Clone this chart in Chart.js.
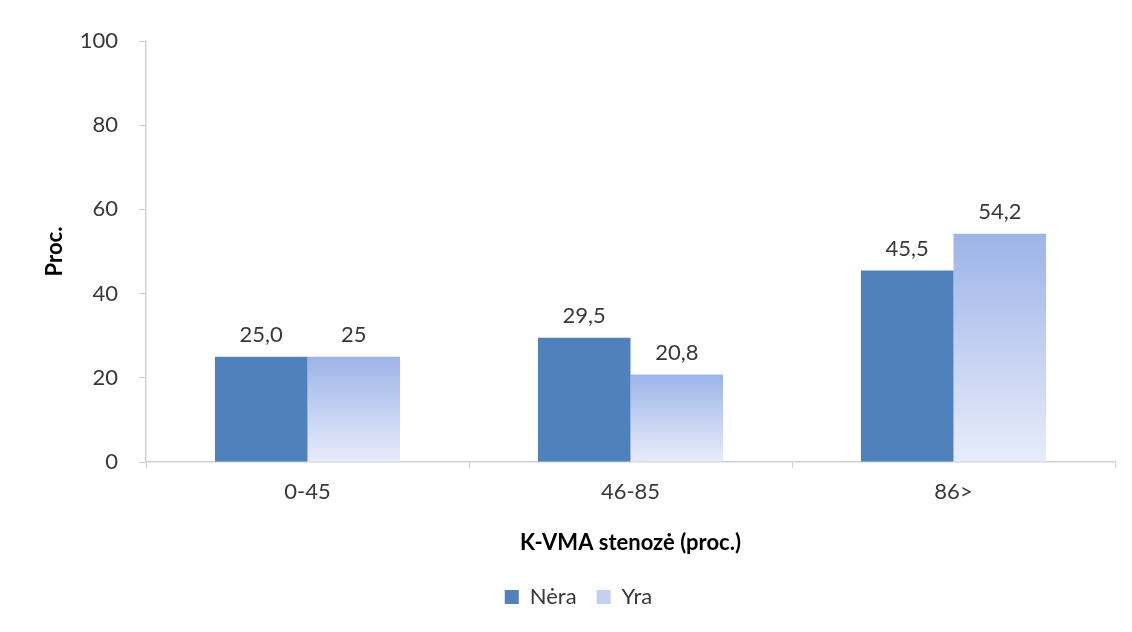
<!DOCTYPE html>
<html>
<head>
<meta charset="utf-8">
<script src="https://cdn.jsdelivr.net/npm/chart.js@4/dist/chart.umd.min.js"></script>
<style>
  html, body { margin: 0; padding: 0; background: #ffffff; }
  #wrap { width: 1132px; height: 632px; }
</style>
</head>
<body>
<div id="wrap"><canvas id="c" width="1132" height="632"></canvas></div>
<script>
// Stenosis groups and the share of patients in each group
const categories = ['0-45', '46-85', '86>'];
const seriesNames = ['Nėra', 'Yra'];
const neraValues = [25.0, 29.5, 45.5];
const yraValues = [25, 20.8, 54.2];
const neraLabels = ['25,0', '29,5', '45,5'];
const yraLabels = ['25', '20,8', '54,2'];
const yTicks = [0, 20, 40, 60, 80, 100];

const FONT = 'Lato, "Open Sans", sans-serif';
const SIZE = 22;
const TEXT = '#383838';
const AXIS = '#d0d0d0';
const NERA_COLOR = '#4f81bd';
const YRA_SWATCH = '#c2d0f1';

// Vertical fade used for the "Yra" bars, spanning each bar from its top to the baseline
function yraFill(ctx) {
  const chart = ctx.chart;
  const y = chart.scales && chart.scales.y;
  if (ctx.type !== 'data' || !y || !chart.chartArea) return YRA_SWATCH;
  const top = y.getPixelForValue(ctx.raw);
  const base = y.getPixelForValue(0);
  const g = chart.ctx.createLinearGradient(0, top, 0, base);
  g.addColorStop(0, '#9db4e8');
  g.addColorStop(1, '#e8ecfa');
  return g;
}

// Writes the value above every bar
const valueLabels = {
  id: 'valueLabels',
  afterDatasetsDraw(chart) {
    const c = chart.ctx;
    c.save();
    c.font = SIZE + 'px ' + FONT;
    c.fillStyle = TEXT;
    c.textAlign = 'center';
    c.textBaseline = 'middle';
    chart.data.datasets.forEach((ds, i) => {
      const meta = chart.getDatasetMeta(i);
      meta.data.forEach((bar, j) => {
        c.fillText(ds.valueText[j], bar.x, bar.y - 22);
      });
    });
    c.restore();
  }
};

new Chart(document.getElementById('c'), {
  type: 'bar',
  data: {
    labels: categories,
    datasets: [
      { label: seriesNames[0], data: neraValues, valueText: neraLabels,
        backgroundColor: NERA_COLOR, borderWidth: 0 },
      { label: seriesNames[1], data: yraValues, valueText: yraLabels,
        backgroundColor: yraFill, borderWidth: 0 }
    ]
  },
  options: {
    responsive: false,
    animation: false,
    devicePixelRatio: 1,
    layout: { padding: { left: 42, right: 17, top: 41, bottom: 14 } },
    datasets: { bar: { categoryPercentage: 0.573, barPercentage: 1.0 } },
    plugins: {
      legend: {
        position: 'bottom',
        labels: {
          font: { family: FONT, size: SIZE },
          color: TEXT,
          boxWidth: 14,
          boxHeight: 14,
          padding: 20,
          generateLabels(chart) {
            const items = Chart.defaults.plugins.legend.labels.generateLabels(chart);
            items.forEach((it, i) => {
              it.fillStyle = i === 0 ? NERA_COLOR : YRA_SWATCH;
              it.lineWidth = 0;
              it.strokeStyle = 'rgba(0,0,0,0)';
            });
            return items;
          }
        }
      },
      tooltip: { enabled: false }
    },
    scales: {
      x: {
        afterFit(scale) { scale.height = 104; },
        grid: { display: true, drawOnChartArea: false, drawTicks: true, tickLength: 6, color: AXIS, offset: true },
        border: { display: true, color: AXIS, width: 1.5 },
        ticks: { font: { family: FONT, size: SIZE }, color: TEXT, padding: 11 },
        title: { display: true, text: 'K-VMA stenozė (proc.)', font: { family: FONT, size: SIZE, weight: 'bold' }, color: '#000000', padding: { top: 14, bottom: 10 } }
      },
      y: {
        min: 0,
        max: 100,
        afterFit(scale) { scale.width = 104; },
        afterBuildTicks(scale) { scale.ticks = yTicks.map(v => ({ value: v })); },
        grid: { display: true, drawOnChartArea: false, drawTicks: true, tickLength: 7, color: AXIS },
        border: { display: true, color: AXIS, width: 1.5 },
        ticks: { font: { family: FONT, size: SIZE }, color: TEXT, padding: 21 },
        title: { display: true, text: 'Proc.', font: { family: FONT, size: SIZE, weight: 'bold' }, color: '#000000', padding: { top: 0, bottom: 0 } }
      }
    }
  },
  plugins: [valueLabels]
});
</script>
</body>
</html>
